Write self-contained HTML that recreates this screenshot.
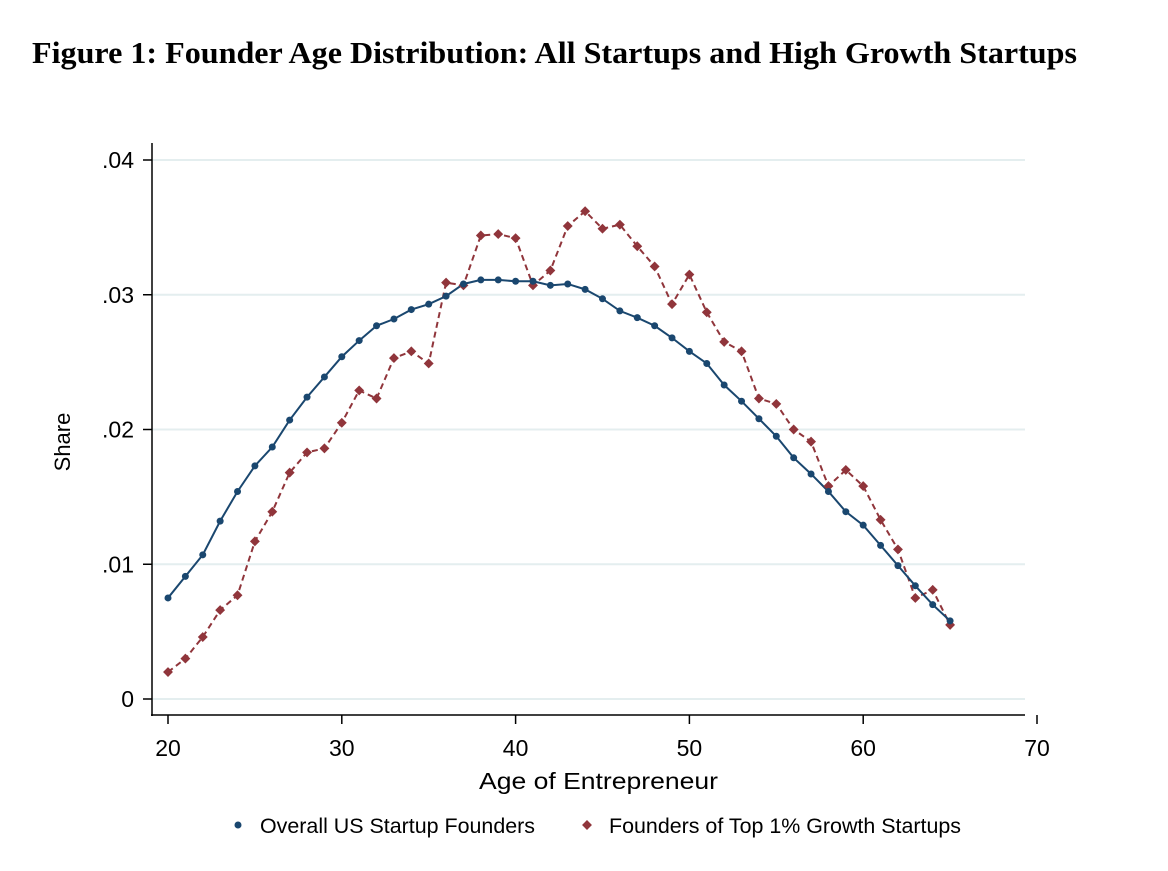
<!DOCTYPE html>
<html><head><meta charset="utf-8"><style>
body{margin:0;background:#fff;}
svg text{font-family:"Liberation Sans",sans-serif;fill:#000;}
</style></head><body>
<svg width="1168" height="866" viewBox="0 0 1168 866">
<text x="32" y="63" textLength="1045" lengthAdjust="spacingAndGlyphs" style="font-family:'Liberation Serif',serif;font-weight:bold;font-size:31px">Figure 1: Founder Age Distribution: All Startups and High Growth Startups</text>
<g id="grid"></g>
<g id="axes"></g>
<g id="series"></g>
<text x="70" y="442" transform="rotate(-90 70 442)" text-anchor="middle" font-size="22">Share</text>
<text x="479" y="789" font-size="23" textLength="239" lengthAdjust="spacingAndGlyphs">Age of Entrepreneur</text>
<g>
<g><circle cx="238" cy="825" r="3.5" fill="#1a476f"/><text x="260" y="833" font-size="21" textLength="275" lengthAdjust="spacingAndGlyphs">Overall US Startup Founders</text></g>
<g><rect x="583.5" y="821.5" width="7" height="7" fill="#90353b" transform="rotate(45 587 825)"/><text x="609" y="833" font-size="21" textLength="352" lengthAdjust="spacingAndGlyphs">Founders of Top 1% Growth Startups</text></g>
</g>
</svg>
<script>
const ages=[20,21,22,23,24,25,26,27,28,29,30,31,32,33,34,35,36,37,38,39,40,41,42,43,44,45,46,47,48,49,50,51,52,53,54,55,56,57,58,59,60,61,62,63,64,65];
const overall=[.0075,.0091,.0107,.0132,.0154,.0173,.0187,.0207,.0224,.0239,.0254,.0266,.0277,.0282,.0289,.0293,.0299,.0308,.0311,.0311,.0310,.0310,.0307,.0308,.0304,.0297,.0288,.0283,.0277,.0268,.0258,.0249,.0233,.0221,.0208,.0195,.0179,.0167,.0154,.0139,.0129,.0114,.0099,.0084,.0070,.0058];
const top1=[.0020,.0030,.0046,.0066,.0077,.0117,.0139,.0168,.0183,.0186,.0205,.0229,.0223,.0253,.0258,.0249,.0309,.0307,.0344,.0345,.0342,.0307,.0318,.0351,.0362,.0349,.0352,.0336,.0321,.0293,.0315,.0287,.0265,.0258,.0223,.0219,.0200,.0191,.0158,.0170,.0158,.0133,.0111,.0075,.0081,.0055];
const yTicks=[0,.01,.02,.03,.04];
const yTickLabels=["0",".01",".02",".03",".04"];
const xTicks=[20,30,40,50,60,70];
const NS="http://www.w3.org/2000/svg";
const X=a=>168+(a-20)*17.38;
const Y=v=>699-v*13475;
function mk(tag,attrs,parent){const e=document.createElementNS(NS,tag);for(const k in attrs)e.setAttribute(k,attrs[k]);document.getElementById(parent).appendChild(e);return e;}
yTicks.forEach((v,i)=>{
  const g=mk('line',{x1:152,x2:1025,y1:Y(v),y2:Y(v),stroke:'#e4eeef','stroke-width':2},'grid');
  
  
  const t=mk('line',{x1:143,x2:152,y1:Y(v),y2:Y(v),stroke:'#000','stroke-width':1.5},'axes');
  
  
  const l=mk('text',{x:134,y:Y(v)+8,'text-anchor':'end','font-size':23},'axes');
  l.textContent=yTickLabels[i];
  
  
});
xTicks.forEach(a=>{
  const t=mk('line',{x1:X(a),x2:X(a),y1:715,y2:724,stroke:'#000','stroke-width':1.5},'axes');
  
  
  const l=mk('text',{x:X(a),y:756,'text-anchor':'middle','font-size':23},'axes');
  l.textContent=a;
  
  
});
const ya=mk('line',{x1:152,x2:152,y1:143,y2:716,stroke:'#000','stroke-width':1.5},'axes');


const xa=mk('line',{x1:151,x2:1025,y1:715,y2:715,stroke:'#000','stroke-width':1.5},'axes');


const p2=mk('polyline',{points:ages.map((a,i)=>X(a)+','+Y(top1[i])).join(' '),fill:'none',stroke:'#90353b','stroke-width':2,'stroke-dasharray':'6 4'},'series');


const p1=mk('polyline',{points:ages.map((a,i)=>X(a)+','+Y(overall[i])).join(' '),fill:'none',stroke:'#1a476f','stroke-width':2},'series');


ages.forEach((a,i)=>{
  const x=X(a),y=Y(top1[i]);
  const d=mk('rect',{x:x-3.5,y:y-3.5,width:7,height:7,fill:'#90353b',transform:`rotate(45 ${x} ${y})`},'series');
  
  
});
ages.forEach((a,i)=>{
  const c=mk('circle',{cx:X(a),cy:Y(overall[i]),r:3.5,fill:'#1a476f'},'series');
  
  
});
</script>
</body></html>
